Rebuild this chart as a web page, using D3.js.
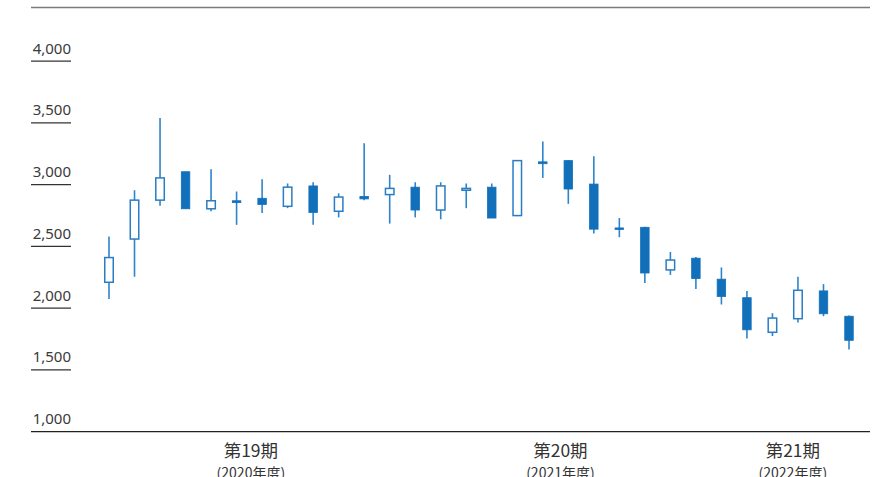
<!DOCTYPE html>
<html>
<head>
<meta charset="utf-8">
<script src="https://cdn.jsdelivr.net/npm/d3@7/dist/d3.min.js"></script>
<style>
  html, body { margin: 0; padding: 0; background: #fff; }
  svg { display: block; }
</style>
</head>
<body>
<svg id="chart" width="884" height="477"></svg>
<script>
// Monthly share price candles (open / high / low / close), oldest first
const opens  = [2210, 2560, 2875, 3105, 2805, 2870, 2890, 2825, 2990, 2785,
                2905, 2920, 2980, 2795, 2955, 2980, 2750, 3185, 3195, 3005,
                2650, 2655, 2310, 2405, 2235, 2085, 1805, 1915, 2140, 1935];
const highs  = [2580, 2955, 3540, 3105, 3125, 2945, 3045, 3010, 3020, 2930,
                3335, 3080, 3020, 3020, 3010, 3010, 3200, 3350, 3200, 3230,
                2730, 2660, 2455, 2415, 2330, 2140, 1960, 2255, 2195, 1940];
const lows   = [2075, 2255, 2830, 2805, 2785, 2675, 2770, 2810, 2675, 2735,
                2875, 2685, 2735, 2720, 2810, 2730, 2745, 3055, 2845, 2605,
                2575, 2205, 2270, 2155, 2030, 1755, 1775, 1885, 1935, 1665];
const closes = [2410, 2875, 3055, 2805, 2870, 2855, 2840, 2980, 2775, 2900,
                2885, 2970, 2795, 2990, 2970, 2730, 3195, 3170, 2965, 2640,
                2638, 2285, 2390, 2240, 2095, 1825, 1920, 2145, 1955, 1740];

// Y axis ticks
const yTicks = [1000, 1500, 2000, 2500, 3000, 3500, 4000];

// Fiscal period labels and where they sit along the candle sequence
const periodLabels = ["第19期", "第20期", "第21期"];
const periodYears  = ["(2020年度)", "(2021年度)", "(2022年度)"];
const periodAt     = [5.56, 17.69, 26.8];

const candles = opens.map((o, i) => ({ i, o, h: highs[i], l: lows[i], c: closes[i] }));

const svg = d3.select("#chart");
const left = 31, right = 870;

const x = d3.scaleLinear().domain([0, candles.length - 1]).range([109, 849]);
const y = d3.scaleLinear().domain([1000, 4000]).range([431.7, 61.2]);

const blue = "#1270bb";
const wickBlue = "#2e84cb";
const bodyW = 8.5;

// top rule
svg.append("line")
  .attr("x1", left).attr("x2", right)
  .attr("y1", 7.5).attr("y2", 7.5)
  .attr("stroke", "#7a7a7a").attr("stroke-width", 1.3);

// y tick underlines and labels
const yAxisG = svg.append("g");
yAxisG.selectAll("line.tick")
  .data(yTicks.filter(d => d !== 1000))
  .join("line")
  .attr("class", "tick")
  .attr("x1", left).attr("x2", 71)
  .attr("y1", d => y(d)).attr("y2", d => y(d))
  .attr("stroke", "#333").attr("stroke-width", 1.2);

yAxisG.selectAll("text")
  .data(yTicks)
  .join("text")
  .attr("x", 71)
  .attr("y", d => y(d) - 7.5)
  .attr("text-anchor", "end")
  .attr("font-family", "'Noto Sans', sans-serif")
  .attr("font-size", 15)
  .attr("fill", "#3a3a3a")
  .text(d => d3.format(",")(d));

// baseline axis
svg.append("line")
  .attr("x1", left).attr("x2", right)
  .attr("y1", y(1000)).attr("y2", y(1000))
  .attr("stroke", "#222").attr("stroke-width", 1.3);

// candles
const cg = svg.append("g");
cg.selectAll("line.wick")
  .data(candles)
  .join("line")
  .attr("class", "wick")
  .attr("x1", d => x(d.i)).attr("x2", d => x(d.i))
  .attr("y1", d => y(d.h)).attr("y2", d => y(d.l))
  .attr("stroke", wickBlue).attr("stroke-width", 1.6);

cg.selectAll("rect.body")
  .data(candles)
  .join("rect")
  .attr("class", "body")
  .attr("x", d => x(d.i) - bodyW / 2)
  .attr("width", bodyW)
  .attr("y", d => y(Math.max(d.o, d.c)))
  .attr("height", d => Math.max(1.5, Math.abs(y(d.o) - y(d.c))))
  .attr("fill", d => d.c >= d.o ? "#fff" : blue)
  .attr("stroke", d => d.c >= d.o ? "#2a7cc4" : blue)
  .attr("stroke-width", d => d.c >= d.o ? 1.5 : 0.8);

// fiscal period labels
const pg = svg.append("g")
  .attr("font-family", "'Noto Sans CJK JP', 'Noto Sans', sans-serif")
  .attr("fill", "#333")
  .attr("text-anchor", "middle");

pg.selectAll("text.period")
  .data(periodLabels)
  .join("text")
  .attr("class", "period")
  .attr("x", (d, k) => x(periodAt[k]))
  .attr("y", 457)
  .attr("font-size", 17.5)
  .text(d => d);

pg.selectAll("text.year")
  .data(periodYears)
  .join("text")
  .attr("class", "year")
  .attr("x", (d, k) => x(periodAt[k]))
  .attr("y", 478)
  .attr("font-size", 14)
  .text(d => d);
</script>
</body>
</html>
